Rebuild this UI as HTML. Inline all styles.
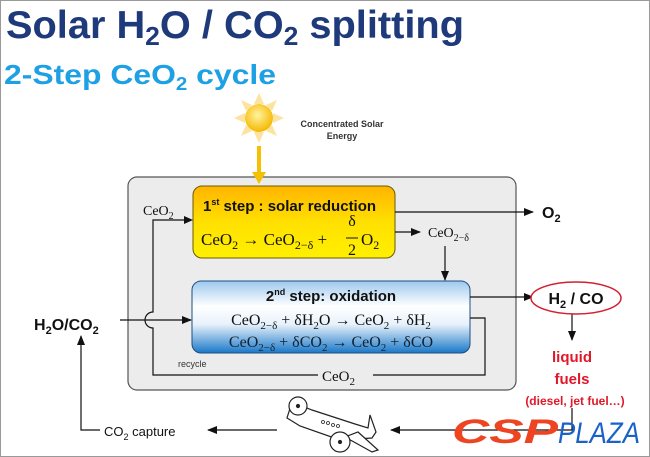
<!DOCTYPE html>
<html><head><meta charset="utf-8"><style>
html,body{margin:0;padding:0;background:#fff}
svg{display:block}
text{font-family:"Liberation Sans",sans-serif}
.s{font-family:"Liberation Serif",serif}
</style></head><body>
<svg width="650" height="457" viewBox="0 0 650 457" xmlns="http://www.w3.org/2000/svg">
<defs>
<linearGradient id="yg" x1="0" y1="0" x2="0" y2="1"><stop offset="0" stop-color="#ffb400"/><stop offset="0.5" stop-color="#ffe000"/><stop offset="1" stop-color="#fff000"/></linearGradient>
<linearGradient id="bg" x1="0" y1="0" x2="0" y2="1"><stop offset="0" stop-color="#9cc8ee"/><stop offset="0.35" stop-color="#ffffff"/><stop offset="0.6" stop-color="#e8f2fb"/><stop offset="1" stop-color="#1a78c8"/></linearGradient>
<radialGradient id="sun" cx="0.45" cy="0.4" r="0.6"><stop offset="0" stop-color="#fff3a0"/><stop offset="1" stop-color="#f5b800"/></radialGradient>
<marker id="a" markerWidth="10" markerHeight="8" refX="9" refY="4" orient="auto" markerUnits="userSpaceOnUse"><path d="M0,0 L10,4 L0,8 z" fill="#111"/></marker>
</defs>
<rect x="0.5" y="0.5" width="649" height="456" fill="#fff" stroke="#999"/>
<text x="6" y="38" font-size="39" font-weight="bold" fill="#1f3a7a" textLength="458" lengthAdjust="spacingAndGlyphs">Solar H<tspan font-size="26" dy="7">2</tspan><tspan dy="-7">O / CO</tspan><tspan font-size="26" dy="7">2</tspan><tspan dy="-7"> splitting</tspan></text>
<text x="4" y="84" font-size="28" font-weight="bold" fill="#1ea0e4" textLength="272" lengthAdjust="spacingAndGlyphs">2-Step CeO<tspan font-size="18" dy="6">2</tspan><tspan dy="-6"> cycle</tspan></text>
<!-- sun -->
<g transform="translate(259,118)">
<g fill="#fbe3a0">
<polygon points="0,-25 -5,-14 5,-14"/><polygon points="0,25 -5,14 5,14"/><polygon points="-25,0 -14,-5 -14,5"/><polygon points="25,0 14,-5 14,5"/>
<polygon points="-18,-18 -13,-7 -7,-13"/><polygon points="18,-18 13,-7 7,-13"/><polygon points="-18,18 -13,7 -7,13"/><polygon points="18,18 13,7 7,13"/>
</g>
<circle r="14" fill="url(#sun)"/>
</g>
<text x="342" y="127" font-size="9" font-weight="bold" fill="#333" text-anchor="middle">Concentrated Solar</text>
<text x="342" y="139" font-size="9" font-weight="bold" fill="#333" text-anchor="middle">Energy</text>
<!-- grey box -->
<rect x="128" y="177" width="388" height="213" rx="9" fill="#ececec" stroke="#555" stroke-width="1.2"/>
<rect x="257" y="146" width="4" height="28" fill="#f5c000"/>
<polygon points="252,172 266,172 259,184" fill="#f5c000"/>
<!-- yellow box -->
<rect x="193" y="186" width="202" height="72" rx="9" fill="url(#yg)" stroke="#6b5a00" stroke-width="1"/>
<text x="203" y="211" font-size="15" font-weight="bold" fill="#111">1<tspan font-size="9" dy="-6">st</tspan><tspan dy="6"> step : solar reduction</tspan></text>
<text class="s" x="201" y="245" font-size="17" fill="#111">CeO<tspan font-size="12" dy="4">2</tspan><tspan dy="-4"> → CeO</tspan><tspan font-size="12" dy="4">2−δ</tspan><tspan dy="-4"> + </tspan></text>
<text class="s" x="352" y="226" font-size="16" fill="#111" text-anchor="middle">δ</text>
<line x1="346" y1="238" x2="358" y2="238" stroke="#111"/>
<text class="s" x="352" y="255" font-size="16" fill="#111" text-anchor="middle">2</text>
<text class="s" x="361" y="245" font-size="17" fill="#111">O<tspan font-size="12" dy="4">2</tspan></text>
<!-- blue box -->
<rect x="192" y="281" width="278" height="72" rx="9" fill="url(#bg)" stroke="#1a4f80" stroke-width="1"/>
<text x="331" y="301" font-size="15" font-weight="bold" fill="#111" text-anchor="middle">2<tspan font-size="9" dy="-6">nd</tspan><tspan dy="6"> step: oxidation</tspan></text>
<text class="s" x="331" y="325" font-size="16" fill="#111" text-anchor="middle">CeO<tspan font-size="11" dy="4">2−δ</tspan><tspan dy="-4"> + δH</tspan><tspan font-size="11" dy="4">2</tspan><tspan dy="-4">O → CeO</tspan><tspan font-size="11" dy="4">2</tspan><tspan dy="-4"> + δH</tspan><tspan font-size="11" dy="4">2</tspan></text>
<text class="s" x="331" y="347" font-size="16" fill="#123" text-anchor="middle">CeO<tspan font-size="11" dy="4">2−δ</tspan><tspan dy="-4"> + δCO</tspan><tspan font-size="11" dy="4">2</tspan><tspan dy="-4"> → CeO</tspan><tspan font-size="11" dy="4">2</tspan><tspan dy="-4"> + δCO</tspan></text>
<!-- connectors -->
<g stroke="#111" stroke-width="1.2" fill="none">
<path d="M185,220 L153,220 L153,312 A7,7 0 0 0 153,328 L153,375 L318,375"/>
<path d="M373,375 L485,375 L485,318 L470,318"/>
<line x1="395" y1="212" x2="533" y2="212" marker-end="url(#a)"/>
<line x1="395" y1="232" x2="420" y2="232" marker-end="url(#a)"/>
<line x1="445" y1="246" x2="445" y2="280" marker-end="url(#a)"/>
<line x1="470" y1="297" x2="533" y2="297" marker-end="url(#a)"/>
<line x1="120" y1="320" x2="191" y2="320" marker-end="url(#a)"/>
<line x1="572" y1="313" x2="572" y2="340" marker-end="url(#a)"/>
<path d="M572,408 L572,430 L391,430" marker-end="url(#a)"/>
<line x1="277" y1="430" x2="208" y2="430" marker-end="url(#a)"/>
<path d="M100,430 L81,430 L81,336" marker-end="url(#a)"/>
</g>
<path d="M193,220 L184,216 L184,224 z" fill="#111"/>
<text class="s" x="143" y="215" font-size="14" fill="#111">CeO<tspan font-size="10" dy="4">2</tspan></text>
<text class="s" x="428" y="237" font-size="14" fill="#111">CeO<tspan font-size="10" dy="4">2−δ</tspan></text>
<text class="s" x="322" y="381" font-size="15" fill="#111">CeO<tspan font-size="11" dy="4">2</tspan></text>
<text x="178" y="367" font-size="9" fill="#333">recycle</text>
<text x="542" y="218" font-size="16" font-weight="bold" fill="#111">O<tspan font-size="11" dy="4">2</tspan></text>
<text x="34" y="330" font-size="16" font-weight="bold" fill="#111">H<tspan font-size="11" dy="4">2</tspan><tspan dy="-4">O/CO</tspan><tspan font-size="11" dy="4">2</tspan></text>
<ellipse cx="576" cy="298" rx="45" ry="16" fill="#fff" stroke="#d42030" stroke-width="1.5"/>
<text x="576" y="304" font-size="16" font-weight="bold" fill="#111" text-anchor="middle">H<tspan font-size="11" dy="4">2</tspan><tspan dy="-4"> / CO</tspan></text>
<text x="572" y="362" font-size="15" font-weight="bold" fill="#e0182a" text-anchor="middle">liquid</text>
<text x="572" y="384" font-size="15" font-weight="bold" fill="#e0182a" text-anchor="middle">fuels</text>
<text x="575" y="405" font-size="12" font-weight="bold" fill="#e0182a" text-anchor="middle">(diesel, jet fuel…)</text>
<text x="104" y="436" font-size="13" fill="#111">CO<tspan font-size="9" dy="4">2</tspan><tspan dy="-4"> capture</tspan></text>
<!-- plane -->
<g stroke="#222" stroke-width="1.2" fill="#fff">
<path d="M292,402 L312,410 L355,424 L368,428 L370,415 L376,432 L372,438 L340,440 L300,426 L287,418 Z"/>
<path d="M345,437 L372,452 L378,450 L358,432 Z"/>
<circle cx="298" cy="406" r="9"/>
<circle cx="340" cy="442" r="10"/>
<circle cx="298" cy="406" r="1.5" fill="#222"/><circle cx="340" cy="442" r="1.5" fill="#222"/>
<g fill="none" stroke-width="0.8"><circle cx="323" cy="422" r="1.5"/><circle cx="328" cy="423" r="1.5"/><circle cx="333" cy="425" r="1.5"/><circle cx="338" cy="426" r="1.5"/></g>
</g>
<!-- logo -->
<text x="452" y="443" font-size="34" font-weight="bold" font-style="italic" fill="#ee4422" textLength="106" lengthAdjust="spacingAndGlyphs">CSP</text>
<text x="558" y="443" font-size="30" font-style="italic" fill="#1a62c8" textLength="82" lengthAdjust="spacingAndGlyphs">PLAZA</text>
</svg>
</body></html>
